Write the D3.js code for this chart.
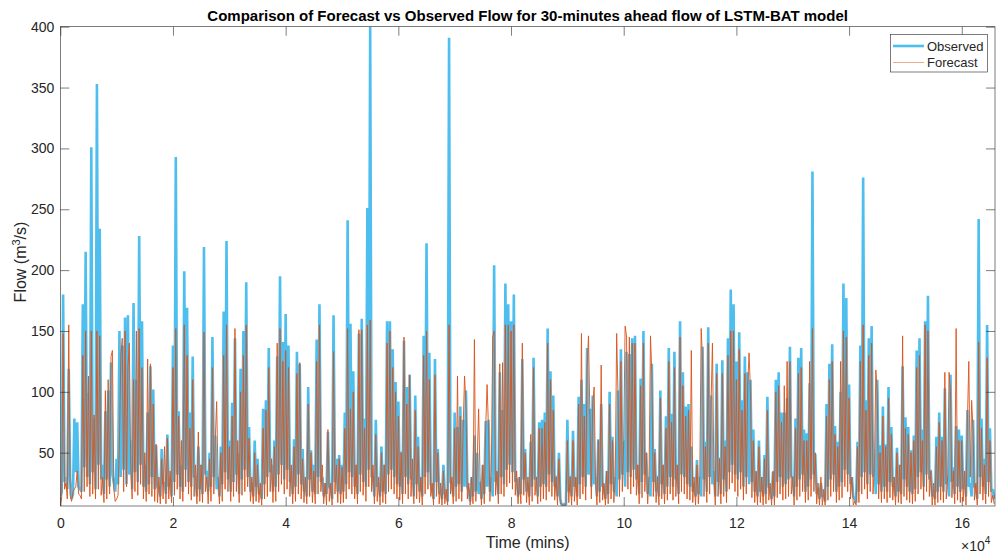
<!DOCTYPE html>
<html>
<head>
<meta charset="utf-8">
<script src="https://cdn.jsdelivr.net/npm/d3@7"></script>
<style>
  body { margin: 0; background: #fff; }
  text { font-family: "Liberation Sans", Arial, Helvetica, sans-serif; fill: #262626; }
</style>
</head>
<body>
<svg id="chart" width="1004" height="555"></svg>
<script>
// sampling interval of both series (minutes)
var timeStep = 250;

// observed flow (m3/s), one value every timeStep minutes
var observed = [
  14,18, 180,26, 30,20, 119,28, 12,16, 78,34, 75,22, 20,18, 172,38, 215,30,
  99,24, 301,34, 78,20, 353,40, 234,28, 40,16, 84,28, 101,22, 124,32, 25,18,
  45,24, 150,30, 138,36, 161,24, 163,32, 60,20, 173,34, 110,26, 228,40, 158,22,
  40,18, 83,24, 121,30, 102,20, 56,22, 20,14, 53,25, 25,16, 65,22, 30,14,
  138,26, 293,32, 84,22, 40,18, 199,36, 169,26, 83,22, 129,30, 30,14, 55,20,
  40,16, 219,32, 35,18, 50,22, 145,30, 64,20, 30,14, 55,24, 166,34, 224,28,
  60,18, 91,26, 144,32, 50,16, 119,28, 150,36, 190,30, 71,18, 25,14, 60,22,
  45,16, 20,12, 86,24, 93,30, 136,34, 40,18, 60,22, 129,32, 195,40, 141,28,
  164,36, 138,26, 35,16, 61,22, 133,32, 123,24, 53,18, 30,14, 104,28, 52,18,
  40,16, 143,30, 172,26, 30,14, 25,16, 67,22, 20,12, 163,26, 45,18, 48,16,
  40,18, 83,24, 241,34, 156,30, 117,22, 40,16, 148,32, 160,26, 78,22, 251,36,
  400,30, 30,14, 77,22, 25,14, 55,18, 40,16, 158,32, 158,36, 135,30, 108,24,
  92,22, 51,16, 142,30, 104,24, 114,28, 40,14, 97,24, 63,18, 30,14, 146,30,
  222,34, 132,24, 20,12, 127,26, 53,16, 20,12, 40,16, 15,10, 391,26, 24,14,
  83,22, 71,24, 88,18, 77,22, 101,22, 18,10, 30,14, 64,18, 50,16, 26,12,
  40,16, 76,22, 77,18, 30,14, 204,26, 34,16, 116,30, 85,24, 189,36, 172,40,
  158,34, 180,26, 29,14, 30,16, 127,28, 53,18, 25,14, 59,22, 128,28, 30,14,
  75,22, 77,24, 83,22, 152,32, 117,26, 97,22, 31,14, 50,12, 7,7, 8,7,
  77,18, 31,14, 68,22, 30,14, 96,24, 110,30, 90,22, 136,32, 86,22, 97,24,
  30,14, 61,18, 90,22, 23,12, 35,16, 100,24, 63,18, 30,14, 101,28, 135,32,
  60,22, 133,34, 131,30, 144,36, 146,28, 40,16, 111,26, 150,32, 50,16, 30,14,
  123,26, 53,18, 31,14, 101,24, 40,16, 80,22, 136,30, 82,22, 133,28, 40,16,
  158,32, 116,30, 88,24, 90,22, 55,18, 25,14, 44,16, 30,14, 137,28, 59,18,
  153,30, 97,24, 35,14, 123,26, 46,16, 126,28, 60,18, 144,34, 184,40, 172,32,
  125,28, 149,34, 93,22, 129,30, 116,24, 110,26, 69,18, 34,14, 60,18, 30,14,
  48,16, 96,22, 20,12, 34,14, 110,26, 116,30, 83,22, 83,24, 95,28, 137,30,
  30,14, 78,22, 128,28, 136,32, 69,18, 66,22, 107,28, 281,32, 49,16, 21,12,
  25,14, 15,10, 90,22, 123,28, 139,32, 72,18, 59,22, 100,26, 189,36, 177,32,
  106,24, 30,14, 12,9, 59,18, 138,30, 276,34, 93,24, 144,32, 154,30, 40,16,
  110,24, 56,18, 88,22, 57,18, 104,26, 71,22, 30,14, 54,18, 40,16, 121,28,
  79,22, 71,18, 52,16, 64,20, 134,30, 144,34, 69,22, 158,32, 179,28, 36,14,
  20,12, 63,18, 83,22, 63,18, 103,24, 30,14, 114,26, 38,16, 72,22, 69,18,
  64,20, 33,14, 85,22, 25,14, 77,22, 21,12, 242,30, 78,22, 45,16, 155,26,
  70,18, 20,12
];

// 30-minutes ahead forecast (m3/s), one value every timeStep minutes
var forecast = [
  5,14, 148,20, 25,12, 155,15, 10,18, 20,22, 35,16, 15,12, 130,18, 150,22,
  113,14, 150,16, 81,12, 150,20, 146,15, 30,9, 101,12, 110,16, 129,134, 20,10,
  12,15, 60,130, 144,18, 150,22, 120,140, 40,12, 110,18, 150,15, 152,24, 120,12,
  50,10, 127,16, 123,14, 90,10, 57,9, 30,8, 45,12, 55,8, 62,12, 35,9,
  120,15, 152,20, 80,12, 60,10, 155,22, 130,16, 70,11, 110,14, 40,8, 67,10,
  40,9, 149,18, 30,8, 45,10, 120,16, 60,92, 30,8, 50,10, 130,20, 155,18,
  55,10, 80,14, 152,18, 60,9, 100,15, 130,18, 155,22, 62,10, 30,8, 50,10,
  40,9, 25,7, 70,12, 85,14, 120,18, 45,9, 55,10, 140,18, 152,24, 125,16,
  134,20, 120,14, 40,8, 55,10, 115,16, 124,12, 45,9, 30,8, 90,14, 50,9,
  35,8, 125,16, 155,18, 40,8, 25,7, 69,10, 25,7, 133,16, 40,9, 45,8,
  38,9, 70,12, 152,20, 86,16, 100,12, 40,8, 151,18, 151,15, 70,10, 155,22,
  159,18, 40,8, 65,10, 30,7, 50,9, 40,8, 140,18, 150,20, 120,16, 100,12,
  80,11, 50,8, 145,16, 90,12, 114,14, 45,8, 85,12, 55,9, 30,7, 130,16,
  150,20, 110,14, 25,7, 114,14, 50,8, 25,7, 35,8, 20,7, 155,16, 30,8,
  70,10, 113,12, 80,10, 70,113, 90,12, 25,7, 30,8, 143,10, 45,86, 30,7,
  40,8, 70,106, 70,10, 35,145, 150,15, 35,8, 123,16, 124,14, 155,22, 155,25,
  150,20, 155,15, 35,8, 30,8, 140,15, 50,9, 30,7, 65,10, 120,15, 30,8,
  70,10, 70,12, 75,11, 140,18, 110,14, 85,11, 30,7, 45,8, 8,7, 7,7,
  60,9, 30,7, 60,10, 30,7, 90,12, 148,16, 80,11, 120,146, 80,12, 90,104,
  30,7, 60,9, 122,11, 25,7, 35,8, 90,12, 60,9, 30,148, 95,14, 125,18,
  60,154, 146,20, 145,16, 140,22, 140,15, 40,8, 105,13, 140,18, 50,8, 30,146,
  115,14, 50,9, 30,7, 95,12, 40,8, 70,11, 125,16, 75,11, 120,14, 40,8,
  145,18, 105,16, 80,12, 85,11, 134,9, 30,7, 40,8, 30,152, 125,14, 55,9,
  140,16, 90,140, 35,7, 115,14, 45,8, 115,14, 55,9, 130,20, 150,25, 150,18,
  110,14, 135,20, 85,11, 115,16, 105,132, 100,13, 60,9, 35,7, 55,9, 30,7,
  45,8, 85,11, 25,7, 35,7, 100,13, 105,16, 75,11, 105,12, 125,14, 125,16,
  30,7, 70,11, 115,14, 120,18, 60,9, 60,11, 125,14, 152,18, 50,8, 25,7,
  30,7, 20,7, 80,11, 110,14, 125,18, 65,9, 55,11, 125,13, 150,22, 145,18,
  95,12, 30,7, 10,7, 55,9, 125,16, 155,20, 85,12, 130,18, 140,16, 40,118,
  100,12, 50,9, 80,12, 55,9, 95,13, 65,11, 30,7, 50,9, 40,8, 146,14,
  70,11, 65,9, 50,8, 60,10, 120,16, 130,20, 60,11, 155,18, 150,14, 35,7,
  25,7, 55,9, 75,11, 60,9, 116,12, 30,116, 100,13, 35,8, 152,11, 60,9,
  60,10, 35,7, 75,125, 30,93, 70,11, 25,7, 141,16, 70,11, 40,8, 128,14,
  60,9, 15,8
];

var xTicks = [0, 20000, 40000, 60000, 80000, 100000, 120000, 140000, 160000];
var xTickLabels = ["0", "2", "4", "6", "8", "10", "12", "14", "16"];
var yTicks = [50, 100, 150, 200, 250, 300, 350, 400];
var seriesNames = ["Observed", "Forecast"];
var seriesColors = ["#4DBEEE", "#D95319"];

var plotLeft = 60.3, plotRight = 995, plotTop = 26.7, plotBottom = 506;

var svg = d3.select('#chart');

var x = d3.scaleLinear().domain([0, 165900]).range([plotLeft, plotRight]);
var y = d3.scaleLinear().domain([6.2, 400]).range([plotBottom, plotTop]);

svg.append('clipPath').attr('id', 'plotclip')
  .append('rect')
  .attr('x', plotLeft).attr('y', plotTop)
  .attr('width', plotRight - plotLeft).attr('height', plotBottom - plotTop);

var plot = svg.append('g').attr('clip-path', 'url(#plotclip)');

var flowLine = d3.line()
  .x(function(d, i){ return x(i * timeStep); })
  .y(function(d){ return y(d); });

plot.append('path')
  .datum(observed)
  .attr('d', flowLine)
  .style('fill', 'none')
  .style('stroke', seriesColors[0])
  .style('stroke-width', 2.6)
  .style('stroke-linejoin', 'bevel');

plot.append('path')
  .datum(forecast)
  .attr('d', flowLine)
  .style('fill', 'none')
  .style('stroke', seriesColors[1])
  .style('stroke-width', 1.0)
  .style('stroke-opacity', 0.9)
  .style('stroke-linejoin', 'bevel');

// axes, ticks point inward on all four sides (box on)
var axisColor = '#262626';

svg.append('g')
  .attr('transform', 'translate(0,' + plotBottom + ')')
  .call(d3.axisBottom(x).tickValues(xTicks)
    .tickFormat(function(d, i){ return xTickLabels[i]; })
    .tickSize(-9).tickPadding(12));

svg.append('g')
  .attr('transform', 'translate(0,' + plotTop + ')')
  .call(d3.axisTop(x).tickValues(xTicks).tickFormat('').tickSize(-9));

svg.append('g')
  .attr('transform', 'translate(' + plotLeft + ',0)')
  .call(d3.axisLeft(y).tickValues(yTicks).tickSize(-9).tickPadding(6));

svg.append('g')
  .attr('transform', 'translate(' + plotRight + ',0)')
  .call(d3.axisRight(y).tickValues(yTicks).tickFormat('').tickSize(-9));

svg.selectAll('.domain').remove();
svg.selectAll('.tick line').style('stroke', axisColor).style('stroke-width', 0.6);
svg.selectAll('.tick text')
  .style('font-size', '14px')
  .style('fill', axisColor)
  .style('font-family', '"Liberation Sans", Arial, sans-serif');

svg.append('rect')
  .attr('x', plotLeft).attr('y', plotTop)
  .attr('width', plotRight - plotLeft).attr('height', plotBottom - plotTop)
  .style('fill', 'none')
  .style('stroke', axisColor)
  .style('stroke-width', 0.6);

// title and labels
svg.append('text')
  .attr('x', (plotLeft + plotRight) / 2).attr('y', 20.5)
  .attr('text-anchor', 'middle')
  .style('font-size', '15px').style('font-weight', 'bold')
  .style('fill', '#000')
  .text('Comparison of Forecast vs Observed Flow for 30-minutes ahead flow of LSTM-BAT model');

svg.append('text')
  .attr('x', (plotLeft + plotRight) / 2).attr('y', 548)
  .attr('text-anchor', 'middle')
  .style('font-size', '16px')
  .text('Time (mins)');

var ylab = svg.append('text')
  .attr('transform', 'translate(26,262) rotate(-90)')
  .attr('text-anchor', 'middle')
  .style('font-size', '16px');
ylab.append('tspan').text('Flow (m');
ylab.append('tspan').attr('dy', -6).style('font-size', '11px').text('3');
ylab.append('tspan').attr('dy', 6).text('/s)');

var expo = svg.append('text')
  .attr('x', 961).attr('y', 551)
  .style('font-size', '14px');
expo.append('tspan').text('\u00d710');
expo.append('tspan').attr('dy', -7).style('font-size', '10px').text('4');

// legend
var legend = svg.append('g');
legend.append('rect')
  .attr('x', 890.5).attr('y', 34.5)
  .attr('width', 97).attr('height', 37.5)
  .style('fill', '#fff')
  .style('stroke', axisColor)
  .style('stroke-width', 0.6);

var legendWidths = [2.6, 0.9];
seriesNames.forEach(function(name, k){
  var ly = 46 + k * 16.5;
  legend.append('line')
    .attr('x1', 893).attr('x2', 924)
    .attr('y1', ly).attr('y2', ly)
    .style('stroke', seriesColors[k])
    .style('stroke-width', legendWidths[k])
    .style('stroke-opacity', k ? 0.55 : 1);
  legend.append('text')
    .attr('x', 927).attr('y', ly + 4.5)
    .style('font-size', '13px')
    .text(name);
});
</script>
</body>
</html>
